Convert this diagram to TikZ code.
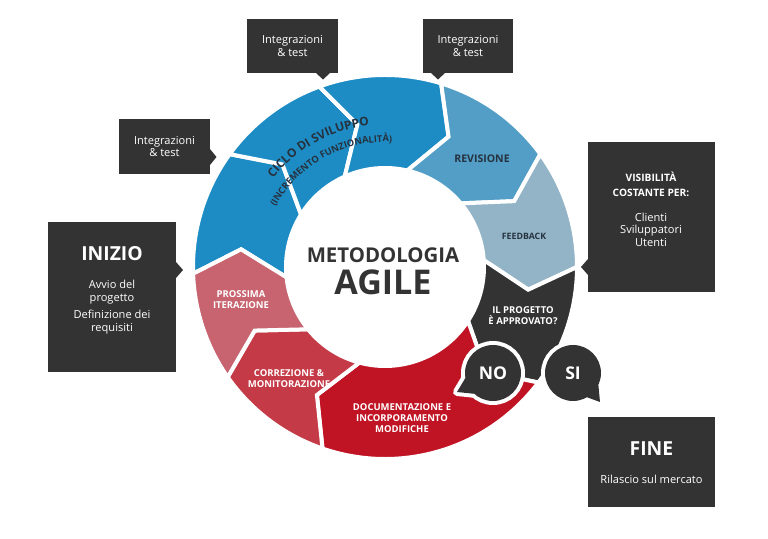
\documentclass[tikz,border=0pt]{standalone}
\usepackage{fontspec}
\setmainfont{Open Sans}
\usepackage{tikz}
\usetikzlibrary{decorations.text}

\definecolor{dark}{RGB}{51,51,51}
\definecolor{navy}{RGB}{38,50,64}
\definecolor{blueA}{RGB}{30,140,196}
\definecolor{blueB}{RGB}{82,158,198}
\definecolor{blueC}{RGB}{146,180,198}
\definecolor{redA}{RGB}{192,20,36}
\definecolor{redB}{RGB}{196,58,70}
\definecolor{redC}{RGB}{199,100,111}

\begin{document}
\begin{tikzpicture}[
    panel/.style={fill=dark, text=white, align=center, inner sep=0, outer sep=0, font=\fontsize{6.3}{7.1}\selectfont},
    paneltext/.style={text=white, align=center, font=\fontsize{6.3}{7.4}\selectfont},
    panelhead/.style={text=white, font=\fontsize{11}{13}\selectfont\bfseries},
    ring/.style={draw=white, line width=0.8mm},
    seglabel/.style={text=navy, align=center, font=\fontsize{5.4}{6.3}\selectfont\bfseries},
    answer/.style={circle, fill=dark, text=white, minimum size=1.12cm, inner sep=0, outer sep=0,
      font=\fontsize{10}{12}\selectfont\bfseries, preaction={draw=white, line width=1.6mm}},
    halo/.style={draw=white, line width=1.6mm, line join=round}
  ]
    \fill [white] (-7.70,-5.44) rectangle (7.66,5.34);

    % ring, clockwise
    \filldraw [ring, fill=blueA] (182:3.84) arc[start angle=182, end angle=144, radius=3.84] -- (135:2.9) -- (148:1.98) arc[start angle=148, end angle=186, radius=1.98] -- (173:2.9) -- cycle; % 184 to 146
    \filldraw [ring, fill=blueA] (144:3.84) arc[start angle=144, end angle=110, radius=3.84] -- (101:2.9) -- (114:1.98) arc[start angle=114, end angle=148, radius=1.98] -- (135:2.9) -- cycle; % 146 to 112
    \filldraw [ring, fill=blueA] (110:3.84) arc[start angle=110, end angle=73, radius=3.84] -- (64:2.9) -- (77:1.98) arc[start angle=77, end angle=114, radius=1.98] -- (101:2.9) -- cycle; % 112 to 75
    \filldraw [ring, fill=blueB] (73:3.84) arc[start angle=73, end angle=36, radius=3.84] -- (27:2.9) -- (40:1.98) arc[start angle=40, end angle=77, radius=1.98] -- (64:2.9) -- cycle; % 75 to 38
    \filldraw [ring, fill=blueC] (36:3.84) arc[start angle=36, end angle=0, radius=3.84] -- (-9:2.9) -- (4:1.98) arc[start angle=4, end angle=40, radius=1.98] -- (27:2.9) -- cycle; % 38 to 2
    \filldraw [ring, fill=dark] (0:3.84) arc[start angle=0, end angle=-37, radius=3.84] -- (-46:2.9) -- (-33:1.98) arc[start angle=-33, end angle=4, radius=1.98] -- (-9:2.9) -- cycle; % 2 to -35
    \filldraw [ring, fill=redA] (-37:3.84) arc[start angle=-37, end angle=-109, radius=3.84] -- (-118:2.9) -- (-105:1.98) arc[start angle=-105, end angle=-33, radius=1.98] -- (-46:2.9) -- cycle; % -35 to -107
    \filldraw [ring, fill=redB] (-109:3.84) arc[start angle=-109, end angle=-145, radius=3.84] -- (-154:2.9) -- (-141:1.98) arc[start angle=-141, end angle=-105, radius=1.98] -- (-118:2.9) -- cycle; % -107 to -143
    \filldraw [ring, fill=redC] (-145:3.84) arc[start angle=-145, end angle=-178, radius=3.84] -- (-187:2.9) -- (-174:1.98) arc[start angle=-174, end angle=-141, radius=1.98] -- (-154:2.9) -- cycle; % -143 to -176

    \path [decorate, decoration={text along path, text align=center, text color=navy,
      text={|\fontsize{6.8}{7}\selectfont\bfseries|CICLO DI SVILUPPO}}]
      (160:2.85) arc[start angle=160, end angle=78, radius=2.85];
    \path [decorate, decoration={text along path, text align=center, text color=navy,
      text={|\fontsize{5.3}{6}\selectfont\bfseries|(INCREMENTO FUNZIONALITÀ)}}]
      (170:2.50) arc[start angle=170, end angle=68, radius=2.50];

    \node [seglabel, font=\fontsize{6}{7}\selectfont\bfseries] (revisione) at (1.94,2.16) {REVISIONE};
    \node [seglabel, font=\fontsize{5}{6}\selectfont\bfseries] (feedback) at (2.78,0.62) {FEEDBACK};
    \node [seglabel, text=white] (approvato) at (2.76,-0.98) {IL PROGETTO\\È APPROVATO?};
    \node [seglabel, text=white] (documentazione) at (0.34,-3.02) {DOCUMENTAZIONE E\\INCORPORAMENTO\\MODIFICHE};
    \node [seglabel, text=white] (correzione) at (-1.92,-2.24) {CORREZIONE \&\\MONITORAZIONE};
    \node [seglabel, text=white] (prossima) at (-2.88,-0.66) {PROSSIMA\\ITERAZIONE};

    \node [text=dark, font=\fontsize{11.6}{14}\selectfont\bfseries] (metodologia) at (-0.04,0.24) {METODOLOGIA};
    \node [text=dark, font=\fontsize{19.4}{22}\selectfont\bfseries] (agile) at (-0.04,-0.30) {AGILE};

    % answers
    \draw [halo] ([shift={(190:0.56)}]2.16,-2.12) -- (1.44,-2.50) -- ([shift={(228:0.56)}]2.16,-2.12);
    \node [answer] (no) at (2.16,-2.12) {NO};
    \fill [dark] ([shift={(190:0.56)}]no.center) -- (1.44,-2.50) -- ([shift={(228:0.56)}]no.center) -- ([shift={(209:0.45)}]no.center) -- cycle;

    \draw [halo] ([shift={(-25:0.56)}]3.76,-2.12) -- (4.30,-2.70) -- ([shift={(-60:0.56)}]3.76,-2.12);
    \node [answer] (si) at (3.76,-2.12) {SI};
    \fill [dark] ([shift={(-25:0.56)}]si.center) -- (4.30,-2.70) -- ([shift={(-60:0.56)}]si.center) -- ([shift={(-42:0.45)}]si.center) -- cycle;

    % panels
    \node [panel, minimum width=1.82cm, minimum height=1.08cm] (test1) at (-1.85,4.42) {Integrazioni\\\& test};
    \fill [dark] ([xshift=0.47cm]test1.south) -- ([xshift=0.61cm,yshift=-0.13cm]test1.south) -- ([xshift=0.75cm]test1.south) -- cycle;

    \node [panel, minimum width=1.80cm, minimum height=1.08cm] (test2) at (1.66,4.42) {Integrazioni\\\& test};
    \fill [dark] ([xshift=-0.74cm]test2.south) -- ([xshift=-0.60cm,yshift=-0.13cm]test2.south) -- ([xshift=-0.46cm]test2.south) -- cycle;

    \node [panel, minimum width=1.82cm, minimum height=1.10cm] (test3) at (-4.41,2.41) {Integrazioni\\\& test};
    \fill [dark] ([yshift=-0.05cm]test3.east) -- ([xshift=0.13cm,yshift=-0.21cm]test3.east) -- ([yshift=-0.37cm]test3.east) -- cycle;

    \node [panel, minimum width=2.56cm, minimum height=3.00cm] (inizio) at (-5.46,-0.60) {};
    \fill [dark] ([yshift=0.70cm]inizio.east) -- ([xshift=0.14cm,yshift=0.54cm]inizio.east) -- ([yshift=0.38cm]inizio.east) -- cycle;
    \node [panelhead] (iniziohead) at (-5.46,0.26) {INIZIO};
    \node [paneltext] (iniziobody) at (-5.46,-0.80) {Avvio del\\progetto\\[2.2pt]Definizione dei\\requisiti};

    \node [panel, minimum width=2.54cm, minimum height=3.00cm] (visibilita) at (5.33,1.00) {};
    \fill [dark] ([yshift=-0.84cm]visibilita.west) -- ([xshift=-0.14cm,yshift=-1.00cm]visibilita.west) -- ([yshift=-1.16cm]visibilita.west) -- cycle;
    \node [paneltext, font=\fontsize{5.8}{8.5}\selectfont\bfseries] (visibilitahead) at (5.32,1.65) {VISIBILITÀ\\COSTANTE PER:};
    \node [paneltext, font=\fontsize{6.3}{7.1}\selectfont] (visibilitabody) at (5.32,0.75) {Clienti\\Sviluppatori\\Utenti};

    \node [panel, minimum width=2.54cm, minimum height=1.80cm] (fine) at (5.33,-3.90) {};
    \node [panelhead] (finehead) at (5.33,-3.64) {FINE};
    \node [paneltext] (finebody) at (5.33,-4.24) {Rilascio sul mercato};
\end{tikzpicture}
\end{document}
